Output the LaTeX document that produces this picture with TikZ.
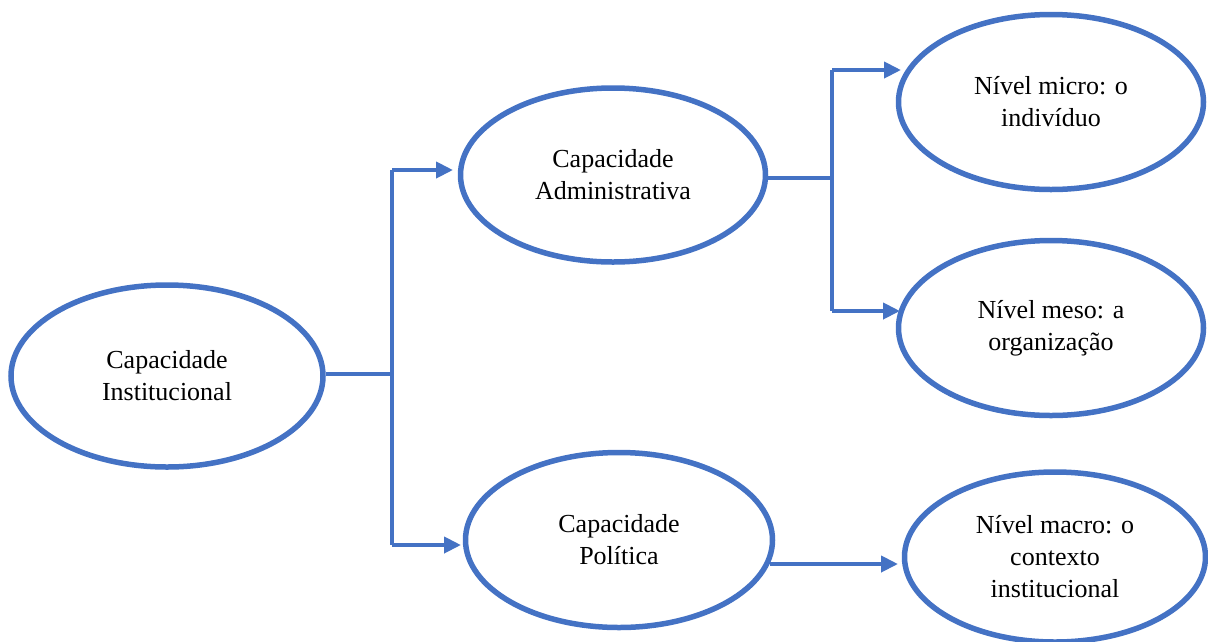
\documentclass[tikz,border=0pt]{standalone}
\usepackage{fontspec}
\setmainfont{Liberation Serif}
\usetikzlibrary{shapes.geometric,arrows.meta}
\definecolor{bl}{HTML}{4472C4}
\begin{document}
\begin{tikzpicture}[x=1pt,y=-1pt,
  oval/.style={ellipse,draw=bl,line width=5.5pt,inner sep=0pt,align=center,
    font=\fontsize{26}{32}\selectfont},
  conn/.style={draw=bl,line width=4pt},
  arr/.style={conn,-{Triangle[length=17pt,width=16pt]}}]
\useasboundingbox (0,0) rectangle (1208,641);
\clip (0,0) rectangle (1208,641);
\node[oval,minimum width=312pt,minimum height=182pt] (inst) at (167,376) {Capacidade\\Institucional};
\node[oval,minimum width=305pt,minimum height=174pt] (adm) at (613,175) {Capacidade\\Administrativa};
\node[oval,minimum width=307pt,minimum height=175pt] (pol) at (619,540) {Capacidade\\Política};
\node[oval,minimum width=305pt,minimum height=175pt] (micro) at (1051,102) {Nível micro: o\\indivíduo};
\node[oval,minimum width=305pt,minimum height=175pt] (meso) at (1051,328) {Nível meso: a\\organização};
\node[oval,minimum width=301pt,minimum height=170pt] (macro) at (1055,557) {Nível macro: o\\contexto\\institucional};
% junctions and arrow tips
\coordinate (j1) at (392,374);
\coordinate (j1t) at (392,170);
\coordinate (j1b) at (392,545);
\coordinate (t1) at (453,170);
\coordinate (t2) at (461,545);
\coordinate (j2) at (832,178);
\coordinate (j2t) at (832,70);
\coordinate (j2b) at (832,311);
\coordinate (t3) at (901,70);
\coordinate (t4) at (900,311);
\coordinate (t5) at (898,564);
\draw[conn] (inst.east |- j1) -- (j1);
\draw[conn] (j1t) -- (j1b);
\draw[arr] (j1t) -- (t1);
\draw[arr] (j1b) -- (t2);
\draw[conn] (adm.east |- j2) -- (j2);
\draw[conn] (j2t) -- (j2b);
\draw[arr] (j2t) -- (t3);
\draw[arr] (j2b) -- (t4);
\draw[arr] (pol.-9.2 |- t5) -- (t5);
\end{tikzpicture}
\end{document}
